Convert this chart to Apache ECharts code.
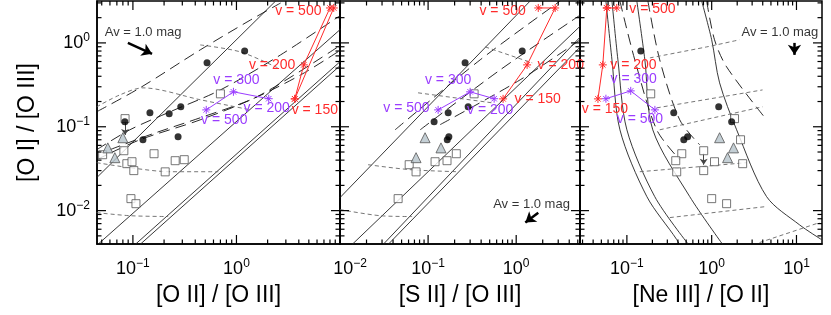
<!DOCTYPE html>
<html><head><meta charset="utf-8">
<script src="https://cdn.jsdelivr.net/npm/echarts@6/dist/echarts.min.js"></script>
<style>html,body{margin:0;padding:0;background:#fff}#c{width:831px;height:315px}</style>
</head><body><div id="c"></div><script>
// ---------------- DATA ----------------
const xRanges = [[0.045, 10], [0.01, 5.3], [0.028, 20]];
const yRange = [0.004, 3.16];
const xTitles = ['[O II] / [O III]', '[S II] / [O III]', '[Ne III] / [O II]'];
const yTitle = '[O I] / [O III]';
const xLabelExps = [[-1, 0], [-2, -1, 0], [-1, 0, 1]];
const yLabelExps = [-2, -1, 0];

// panel 1 : [O II]/[O III]
const p1Circles = [[1.2,0.80],[0.52,0.58],[0.29,0.173],[0.224,0.143],[0.146,0.147],[0.0836,0.115],[0.125,0.070],[0.273,0.076]];
const p1Squares = [[0.70,0.247],[0.084,0.125],[0.051,0.0464],[0.0818,0.0518],[0.16,0.0477],[0.0874,0.0363],[0.098,0.0383],[0.102,0.030],[0.205,0.029],[0.256,0.0394],[0.313,0.0405],[0.0957,0.0139],[0.107,0.0121]];
const p1Triangles = [[0.0572,0.056],[0.080,0.074],[0.0669,0.0428]];
const p1Solid = [
  [[0.0447,0.0247],[2.39,3.16]],
  [[0.0457,0.00394],[10.2,1.47]],
  [[0.105,0.00394],[10.2,0.61]],
  [[0.117,0.00394],[10.2,0.547]]
];
const p1Long = [
  [[0.0447,0.151],[0.117,0.291],[0.447,0.826],[1.37,1.88],[2.67,2.99]],
  [[0.0447,0.0532],[0.0934,0.092],[0.229,0.151],[0.7,0.275],[2.67,0.72],[10.2,2.15]],
  [[0.0447,0.0405],[0.117,0.07],[0.447,0.121],[1.71,0.24],[10.2,0.946]],
  [[0.0598,0.0532],[0.146,0.0803],[0.447,0.128],[1.37,0.21],[4.18,0.416],[10.2,0.826]]
];
const p1Short = [
  [[0.0447,0.00946],[0.0935,0.0087],[0.219,0.0085]],
  [[0.0447,0.0373],[0.0935,0.0325],[0.229,0.0291],[0.668,0.0291]],
  [[0.0447,0.173],[0.0748,0.24],[0.125,0.291],[0.447,0.21],[1.37,0.159]],
  [[0.447,0.946],[1.09,0.782],[2.5,0.504]]
];
const p1RedA = [[8.0,2.61],[4.47,0.547],[3.66,0.215]];
const p1RedB = [[8.7,2.61],[3.66,0.215]];
const p1RedLabels = ['v = 500','v = 200','v = 150'];
const p1Purple = [[0.511,0.159],[0.935,0.261],[2.05,0.216]];
const p1PurpleLabels = ['v = 500','v = 300','v = 200'];
const p1Av = [[0.0894,1.0],[0.153,0.74]];
const p1AvText = [0.0535,1.32];
const p1Limits = [[[0.084,0.118],[0.084,0.08]]];

// panel 2 : [S II]/[O III]
const p2Circles = [[1.17,0.80],[0.263,0.58],[0.285,0.173],[0.169,0.147],[0.117,0.115],[0.165,0.070],[0.172,0.076]];
const p2Squares = [[0.333,0.247],[0.061,0.0353],[0.073,0.029],[0.12,0.0383],[0.164,0.0394],[0.209,0.0477],[0.0457,0.0139]];
const p2Triangles = [[0.073,0.0428],[0.14,0.056],[0.0924,0.074]];
const p2Solid = [
  [[0.01,0.0143],[1.44,3.16]],
  [[0.0137,0.00394],[5.34,1.59]],
  [[0.0308,0.00394],[5.34,1.18]],
  [[0.0351,0.00394],[5.34,0.896]]
];
const p2Long = [
  [[0.0422,0.092],[0.39,0.628],[3.16,3.16]],
  [[0.0813,0.092],[0.658,0.477],[5.34,2.15]],
  [[0.137,0.106],[1.11,0.363],[5.34,1.09]]
];
const p2Short = [
  [[0.01,0.0103],[0.0285,0.0087],[0.0658,0.0085]],
  [[0.0208,0.0353],[0.0624,0.0308],[0.219,0.0291]],
  [[0.0769,0.254],[0.533,0.193]],
  [[0.445,0.896],[1.52,0.578]]
];
const p2RedA = [[1.78,2.61],[2.77,2.61],[1.33,0.547],[0.71,0.215]];
const p2RedLabels = ['v = 500','','v = 200','v = 150'];
const p2Purple = [[0.13,0.159],[0.30,0.261],[0.562,0.216]];
const p2PurpleLabels = ['v = 500','v = 300','v = 200'];
const p2Av = [[1.78,0.00946],[1.27,0.0072]];
const p2AvText = [0.548,0.0118];

// panel 3 : [Ne III]/[O II]
const p3Circles = [[0.146,0.80],[0.357,0.147],[1.21,0.173],[1.72,0.115],[0.469,0.070],[0.52,0.076]];
const p3Squares = [[0.191,0.247],[1.86,0.125],[0.805,0.0518],[2.19,0.070],[0.444,0.0477],[0.377,0.0394],[1.08,0.0383],[2.32,0.0363],[0.387,0.029],[0.805,0.030],[1.0,0.0139],[1.5,0.0121]];
const p3Triangles = [[1.24,0.074],[1.81,0.056],[1.54,0.0428]];
const p3Solid = [
  [[0.0566,3.16],[0.0667,0.628],[0.0828,0.092],[0.172,0.0147],[0.387,0.00452],[0.481,0.003]],
  [[0.0667,3.16],[0.0784,0.628],[0.1,0.092],[0.213,0.0147],[0.522,0.00405]],
  [[0.762,3.16],[1.0,1.09],[1.24,0.334],[1.97,0.092],[4.44,0.0147],[10.8,0.0068],[19.7,0.00452]],
  [[0.131,3.16],[0.163,0.628],[0.202,0.092],[0.551,0.0147],[1.35,0.00394]]
];
const p3Long = [
  [[0.0828,3.16],[0.124,0.628],[0.225,0.092],[0.42,0.0405]],
  [[0.177,3.16],[0.244,0.628],[0.42,0.121],[0.722,0.061]],
  [[0.873,3.16],[1.08,1.09],[1.5,0.518],[4.44,0.121]]
];
const p3Short = [
  [[0.187,0.663],[0.873,0.896],[2.13,1.09]],
  [[0.225,0.168],[3.98,0.275]],
  [[0.244,0.092],[3.98,0.173]],
  [[0.142,0.0291],[2.58,0.0373]],
  [[0.321,0.00826],[4.44,0.0112]],
  [[3.67,0.00416],[18.7,0.0072]]
];
const p3RedA = [[0.058,2.61],[0.076,2.61]];
const p3RedB = [[0.058,2.61],[0.052,0.547],[0.0456,0.215]];
const p3RedLabels = ['','v = 200','v = 150'];
const p3RedTopLabels = ['','v = 500'];
const p3Purple = [[0.0566,0.216],[0.111,0.268],[0.214,0.159]];
const p3PurpleLabels = ['','v = 300','v = 500'];
const p3Av = [[9.47,1.0],[9.47,0.72]];
const p3AvText = [2.25,1.32];
const p3Limits = [[[0.805,0.048],[0.805,0.0353]]];
const avLabel = 'Av = 1.0 mag';

// ---------------- STYLE / BUILD ----------------
const FONT = 'Liberation Sans';
const RED = '#ff2b2b', PURPLE = '#9a3cff';
const STAR = 'path://M5,0L5,10M0,5L10,5M1.6,1.6L8.4,8.4M8.4,1.6L1.6,8.4';
const grids = [
  {left:97, top:1, width:243, height:243},
  {left:340, top:1, width:240, height:243},
  {left:580, top:1, width:242, height:243}
];
function supFmt(allowed, shiftExp){
  return function(v){
    const l = Math.log10(v), e = Math.round(l);
    if (Math.abs(l-e) > 1e-6 || allowed.indexOf(e) < 0) return '';
    const base = (e === shiftExp) ? 'p' : 'b';
    return '{' + base + '|10}{s|' + (e < 0 ? '\u2212' + (-e) : e) + '}';
  };
}
const rich = {
  b:{fontSize:18, fontFamily:FONT, color:'#000', lineHeight:22},
  p:{fontSize:18, fontFamily:FONT, color:'#000', lineHeight:22, padding:[0,0,0,20]},
  s:{fontSize:12, fontFamily:FONT, color:'#000', verticalAlign:'top', lineHeight:12}
};
const xAxes = xRanges.map((r,i)=>({
  type:'log', logBase:10, gridIndex:i, min:r[0], max:r[1],
  axisLine:{show:true, lineStyle:{color:'#000', width:1.5}},
  axisTick:{show:false}, splitLine:{show:false}, minorTick:{show:false},
  axisLabel:{formatter:supFmt(xLabelExps[i], i===1 ? -2 : null), rich:rich, margin:14, showMinLabel:true, showMaxLabel:i!==0},
  name:xTitles[i], nameLocation:'middle', nameGap:40,
  nameTextStyle:{fontFamily:FONT, fontSize:23, color:'#000'}
}));
const yAxes = grids.map((g,i)=>({
  type:'log', logBase:10, gridIndex:i, min:yRange[0], max:yRange[1],
  axisLine:{show:true, lineStyle:{color:'#000', width:1.5}},
  axisTick:{show:false}, splitLine:{show:false},
  axisLabel:{show:i===0, formatter:supFmt(yLabelExps, null), rich:rich, margin:7},
  name:i===0?yTitle:'', nameLocation:'middle', nameGap:58,
  nameTextStyle:{fontFamily:FONT, fontSize:23, color:'#000'}
}));

function tickValues(min, max){
  const out = [];
  for (let k = Math.floor(Math.log10(min)); k <= Math.ceil(Math.log10(max)); k++){
    for (let m = 1; m <= 9; m++){
      const v = m * Math.pow(10, k);
      if (v > min*1.0001 && v < max*0.9999) out.push({v:v, major:m===1});
    }
  }
  return out;
}
function tickSeries(i){
  const data = [];
  tickValues(xRanges[i][0], xRanges[i][1]).forEach(t=>data.push([t.v, 1, 0, t.major?1:0]));
  tickValues(yRange[0], yRange[1]).forEach(t=>data.push([1, t.v, 1, t.major?1:0]));
  return {
    type:'custom', xAxisIndex:i, yAxisIndex:i, silent:true, z:10, clip:false,
    encode:{x:0, y:1}, data:data,
    renderItem:function(params, api){
      const cs = params.coordSys;
      const p = api.coord([api.value(0), api.value(1)]);
      const L = api.value(3) === 1 ? 9 : 4.5;
      const st = {stroke:'#000', lineWidth:1.2};
      if (api.value(2) === 0){
        return {type:'group', children:[
          {type:'line', shape:{x1:p[0], y1:cs.y+cs.height, x2:p[0], y2:cs.y+cs.height-L}, style:st},
          {type:'line', shape:{x1:p[0], y1:cs.y, x2:p[0], y2:cs.y+L}, style:st}
        ]};
      }
      return {type:'group', children:[
        {type:'line', shape:{x1:cs.x, y1:p[1], x2:cs.x+L, y2:p[1]}, style:st},
        {type:'line', shape:{x1:cs.x+cs.width, y1:p[1], x2:cs.x+cs.width-L, y2:p[1]}, style:st}
      ]};
    }
  };
}
const LSTYLE = {
  solid:{color:'#222', width:0.9, type:'solid'},
  long:{color:'#111', width:0.9, type:[11,6]},
  short:{color:'#666', width:0.9, type:[4,3]}
};
function lineS(i, pts, kind){
  return {type:'line', xAxisIndex:i, yAxisIndex:i, data:pts, symbol:'none', showSymbol:false,
    smooth:pts.length>2?0.3:false, lineStyle:LSTYLE[kind], silent:true, z:2, clip:true};
}
function scat(i, pts, kind){
  const cfg = {
    circle:{symbol:'circle', symbolSize:7, itemStyle:{color:'#000'}},
    square:{symbol:'rect', symbolSize:8, itemStyle:{color:'#fff', borderColor:'#555', borderWidth:1}},
    tri:{symbol:'triangle', symbolSize:10, itemStyle:{color:'#b5c3cb', borderColor:'#555', borderWidth:1}}
  }[kind];
  return Object.assign({type:'scatter', xAxisIndex:i, yAxisIndex:i, data:pts, silent:true, z:5}, cfg);
}
function shockS(i, pts, labels, color, labelPos){
  return {type:'line', xAxisIndex:i, yAxisIndex:i, silent:true, z:6,
    symbol:STAR, symbolSize:8, showSymbol:true,
    itemStyle:{color:'none', borderColor:color, borderWidth:1},
    lineStyle:{color:color, width:1},
    data:pts.map((p,k)=>({value:p, label: (labels && labels[k]) ?
      Object.assign({show:true, formatter:labels[k], color:color, fontFamily:FONT, fontSize:14}, labelPos[k]) : {show:false}}))
  };
}
function arrowS(i, seg, width, color, size){
  return {type:'line', xAxisIndex:i, yAxisIndex:i, data:[], silent:true, z:7,
    markLine:{silent:true, animation:false, symbol:['none','arrow'], symbolSize:size,
      lineStyle:{color:color, width:width, type:'solid'}, label:{show:false},
      data:[[{coord:seg[0]},{coord:seg[1]}]]}};
}
function textS(i, pt, txt){
  return {type:'scatter', xAxisIndex:i, yAxisIndex:i, silent:true, z:7, symbolSize:0,
    data:[{value:pt, label:{show:true, position:'right', distance:0, formatter:txt, color:'#000', fontFamily:FONT, fontSize:13}}]};
}

const series = [];
[[p1Solid,p1Long,p1Short],[p2Solid,p2Long,p2Short],[p3Solid,p3Long,p3Short]].forEach((g,i)=>{
  g[0].forEach(l=>series.push(lineS(i,l,'solid')));
  g[1].forEach(l=>series.push(lineS(i,l,'long')));
  g[2].forEach(l=>series.push(lineS(i,l,'short')));
});
[[p1Circles,p1Squares,p1Triangles],[p2Circles,p2Squares,p2Triangles],[p3Circles,p3Squares,p3Triangles]].forEach((g,i)=>{
  series.push(scat(i,g[1],'square'));
  series.push(scat(i,g[2],'tri'));
  series.push(scat(i,g[0],'circle'));
});
// shock models
series.push(shockS(0, p1RedA, p1RedLabels, RED, [
  {position:'left', distance:2, offset:[0,3]},{position:'left', distance:2},{position:'bottom', offset:[20,-7]}]));
series.push(shockS(0, p1RedB, null, RED, []));
series.push(shockS(0, p1Purple, p1PurpleLabels, PURPLE, [
  {position:'bottom', offset:[18,-8]},{position:'top', offset:[3,7]},{position:'bottom', offset:[-2,-9]}]));
series.push(shockS(1, p2RedA, p2RedLabels, RED, [
  {position:'left', distance:6, offset:[0,3]},{},{position:'right', distance:4},{position:'right', distance:5}]));
series.push(shockS(1, p2Purple, p2PurpleLabels, PURPLE, [
  {position:'left', distance:2, offset:[0,-2]},{position:'top', offset:[-22,7]},{position:'bottom', offset:[-4,-7]}]));
series.push(shockS(2, p3RedA, p3RedTopLabels, RED, [{}, {position:'right', distance:6, offset:[0,1]}]));
series.push(shockS(2, p3RedB, p3RedLabels, RED, [{}, {position:'right', distance:1},{position:'bottom', offset:[7,-8]}]));
series.push(shockS(2, p3Purple, p3PurpleLabels, PURPLE, [{}, {position:'top', offset:[3,7]},{position:'bottom', offset:[-15,-9]}]));
// reddening vectors and labels
series.push(arrowS(0, p1Av, 2.5, '#000', 10));
series.push(arrowS(1, p2Av, 2.5, '#000', 10));
series.push(arrowS(2, p3Av, 2.5, '#000', 10));
series.push(textS(0, p1AvText, avLabel));
series.push(textS(1, p2AvText, avLabel));
series.push(textS(2, p3AvText, avLabel));
p1Limits.forEach(s=>series.push(arrowS(0, s, 1, '#444', 6)));
p3Limits.forEach(s=>series.push(arrowS(2, s, 1, '#444', 6)));
// ticks
[0,1,2].forEach(i=>series.push(tickSeries(i)));

const chart = echarts.init(document.getElementById('c'), null, {renderer:'canvas'});
chart.setOption({
  animation:false,
  backgroundColor:'#fff',
  textStyle:{fontFamily:FONT},
  grid:grids.map(g=>Object.assign({show:true, borderColor:'#000', borderWidth:1.5, backgroundColor:'transparent'}, g)),
  xAxis:xAxes, yAxis:yAxes, series:series
});
</script></body></html>
